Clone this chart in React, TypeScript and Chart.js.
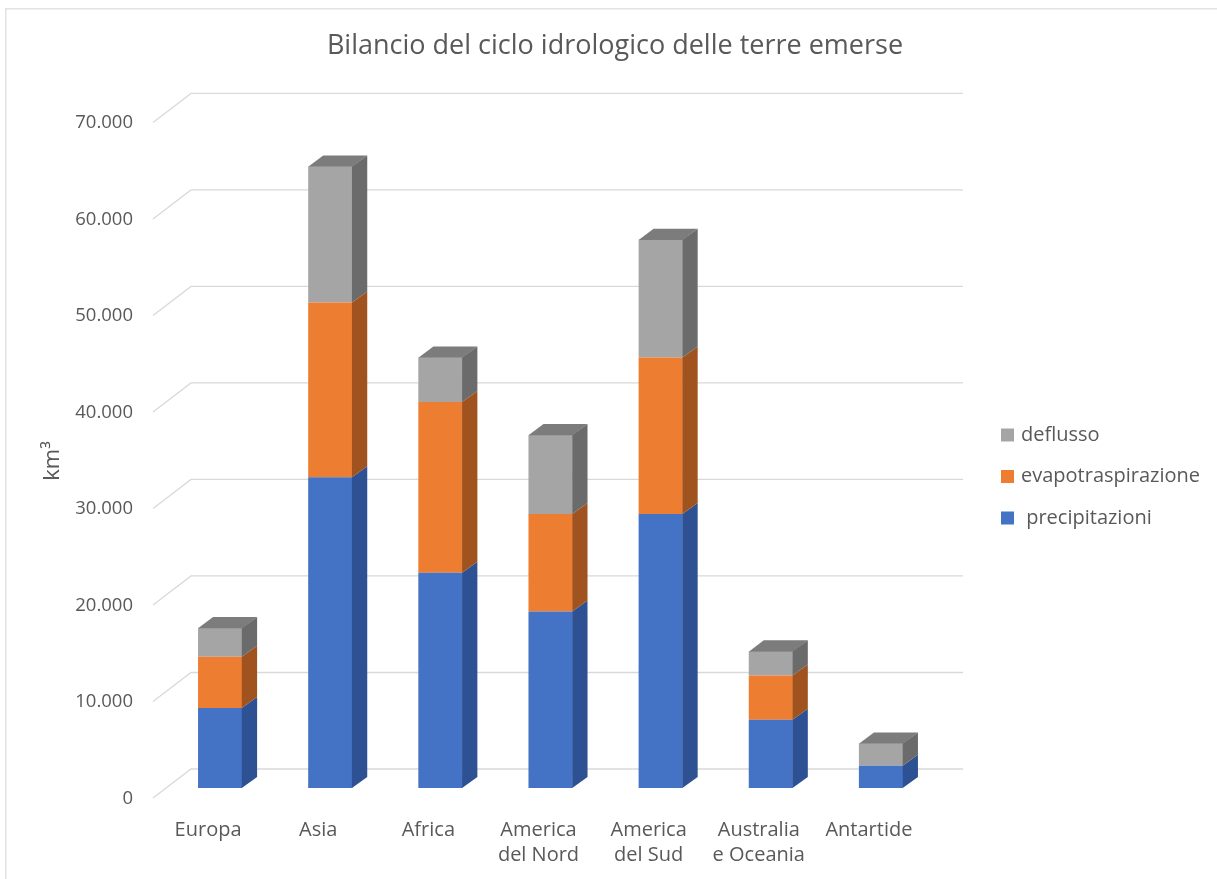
import React, { useEffect, useRef } from 'react';
import { Chart, registerables } from 'chart.js';

Chart.register(...registerables);

const categories: string[][] = [
  ['Europa'],
  ['Asia'],
  ['Africa'],
  ['America', 'del Nord'],
  ['America', 'del Sud'],
  ['Australia', 'e Oceania'],
  ['Antartide'],
];
const precipitazioni = [8290, 32200, 22300, 18300, 28400, 7080, 2310];
const evapotraspirazione = [5320, 18100, 17700, 10100, 16200, 4570, 0];
const deflusso = [2970, 14100, 4600, 8180, 12200, 2510, 2310];
const yTicks = [0, 10000, 20000, 30000, 40000, 50000, 60000, 70000];
const seriesLabels = [' precipitazioni', 'evapotraspirazione', 'deflusso'];
const titleText = 'Bilancio del ciclo idrologico delle terre emerse';
const yTitle = 'km³';

const FRONT = ['#4472C4', '#ED7D31', '#A5A5A5'];
const SIDE = ['#2D5193', '#A0521F', '#6B6B6B'];
const TOP = ['#3A63AD', '#C9692A', '#7C7C7C'];
const TEXT = '#595959';
const FONT = "'Open Sans', 'DejaVu Sans', sans-serif";

const DX = 15;
const DY = -11;

const fmt = (v: number) => String(v).replace(/\B(?=(\d{3})+(?!\d))/g, '.');

const threeD = {
  id: 'threeD',
  beforeDraw(chart: any) {
    const ctx = chart.ctx;
    ctx.save();
    ctx.fillStyle = '#e2e2e2';
    ctx.fillRect(5, 8, chart.width - 5, 1.5);
    ctx.fillRect(5, 8, 1.5, chart.height - 8);
    ctx.restore();
  },
  beforeDatasetsDraw(chart: any) {
    const { ctx, chartArea, scales } = chart;
    const ys = scales.y;
    ctx.save();
    ctx.strokeStyle = '#d9d9d9';
    ctx.lineWidth = 1.3;
    for (const v of yTicks) {
      const py = ys.getPixelForValue(v);
      ctx.beginPath();
      ctx.moveTo(chartArea.left - 12, py + 10);
      ctx.lineTo(chartArea.left + 26, py - 19);
      ctx.lineTo(chartArea.right + 27, py - 19);
      ctx.stroke();
    }
    ctx.restore();
  },
  afterDatasetsDraw(chart: any) {
    const ctx = chart.ctx;
    ctx.save();
    const n = chart.data.labels.length;
    const topY: number[] = new Array(n).fill(Infinity);
    const topIdx: number[] = new Array(n).fill(-1);
    chart.data.datasets.forEach((ds: any, di: number) => {
      const meta = chart.getDatasetMeta(di);
      meta.data.forEach((el: any, i: number) => {
        const v = ds.data[i];
        if (!v) return;
        const { x, y, base, width } = el.getProps(['x', 'y', 'base', 'width'], true);
        const r = x + width / 2;
        ctx.fillStyle = SIDE[di];
        ctx.beginPath();
        ctx.moveTo(r - 0.3, y);
        ctx.lineTo(r + DX, y + DY);
        ctx.lineTo(r + DX, base + DY);
        ctx.lineTo(r - 0.3, base);
        ctx.closePath();
        ctx.fill();
        if (y < topY[i]) {
          topY[i] = y;
          topIdx[i] = di;
        }
      });
    });
    for (let i = 0; i < n; i++) {
      const di = topIdx[i];
      if (di < 0) continue;
      const el = chart.getDatasetMeta(di).data[i];
      const { x, y, width } = el.getProps(['x', 'y', 'width'], true);
      const l = x - width / 2;
      const r = x + width / 2;
      ctx.fillStyle = TOP[di];
      ctx.beginPath();
      ctx.moveTo(l, y + 0.3);
      ctx.lineTo(l + DX, y + DY);
      ctx.lineTo(r + DX, y + DY);
      ctx.lineTo(r, y + 0.3);
      ctx.closePath();
      ctx.fill();
    }
    ctx.restore();
  },
  afterDraw(chart: any) {
    const ctx = chart.ctx;
    ctx.save();
    // y axis title
    ctx.fillStyle = TEXT;
    ctx.font = `22px ${FONT}`;
    ctx.textAlign = 'center';
    ctx.textBaseline = 'middle';
    ctx.translate(53, 461);
    ctx.rotate(-Math.PI / 2);
    ctx.fillText(yTitle, 0, 0);
    ctx.restore();

    // legend (reverse order)
    ctx.save();
    ctx.font = `20px ${FONT}`;
    ctx.textAlign = 'left';
    ctx.textBaseline = 'middle';
    const rows = [2, 1, 0];
    rows.forEach((di, k) => {
      const cy = 435 + k * 41.5;
      ctx.fillStyle = FRONT[di];
      ctx.fillRect(1001, cy - 6.5, 13, 13);
      ctx.fillStyle = TEXT;
      ctx.fillText(chart.data.datasets[di].label, 1021, cy);
    });
    ctx.restore();
  },
};

export default function App() {
  const ref = useRef<HTMLCanvasElement | null>(null);

  useEffect(() => {
    if (!ref.current) return;
    const series = [precipitazioni, evapotraspirazione, deflusso];
    const chart = new Chart(ref.current, {
      type: 'bar',
      data: {
        labels: categories,
        datasets: series.map((d, i) => ({
          label: seriesLabels[i],
          data: d,
          backgroundColor: FRONT[i],
          borderWidth: 0,
          categoryPercentage: 1,
          barPercentage: 0.4,
        })),
      },
      options: {
        responsive: false,
        animation: false,
        events: [],
        layout: { padding: { left: 13, top: 0, right: 0, bottom: 0 } },
        plugins: {
          legend: { display: false },
          tooltip: { enabled: false },
          title: {
            display: true,
            text: titleText,
            color: TEXT,
            font: { family: FONT, size: 27, weight: 'normal' as any },
            padding: { top: 30, bottom: 50 },
          },
        },
        scales: {
          x: {
            stacked: true,
            grid: { display: false, drawTicks: false },
            border: { display: false },
            ticks: {
              color: TEXT,
              font: { family: FONT, size: 20, lineHeight: 1.25 },
              padding: 30,
              labelOffset: -12,
              maxRotation: 0,
              autoSkip: false,
            },
            afterFit: (s: any) => {
              s.height = 91;
            },
          },
          y: {
            stacked: true,
            min: 0,
            max: 70000,
            grid: { display: false, drawTicks: false },
            border: { display: false },
            afterBuildTicks: (s: any) => {
              s.ticks = yTicks.map((v) => ({ value: v }));
            },
            ticks: {
              color: TEXT,
              font: { family: FONT, size: 18.5 },
              padding: 32,
              labelOffset: 10.5,
              callback: (v: any) => fmt(Number(v)),
            },
            afterFit: (s: any) => {
              s.width = 152;
            },
          },
          yr: {
            type: 'linear',
            position: 'right',
            display: true,
            grid: { display: false, drawTicks: false },
            border: { display: false },
            ticks: { display: false },
            afterFit: (s: any) => {
              s.width = 281;
            },
          },
        },
      },
      plugins: [threeD],
    });
    return () => chart.destroy();
  }, []);

  return (
    <div style={{ position: 'fixed', left: 0, top: 0, width: 1217, height: 879, background: '#fff' }}>
      <canvas ref={ref} width={1217} height={879} style={{ display: 'block' }} />
    </div>
  );
}
